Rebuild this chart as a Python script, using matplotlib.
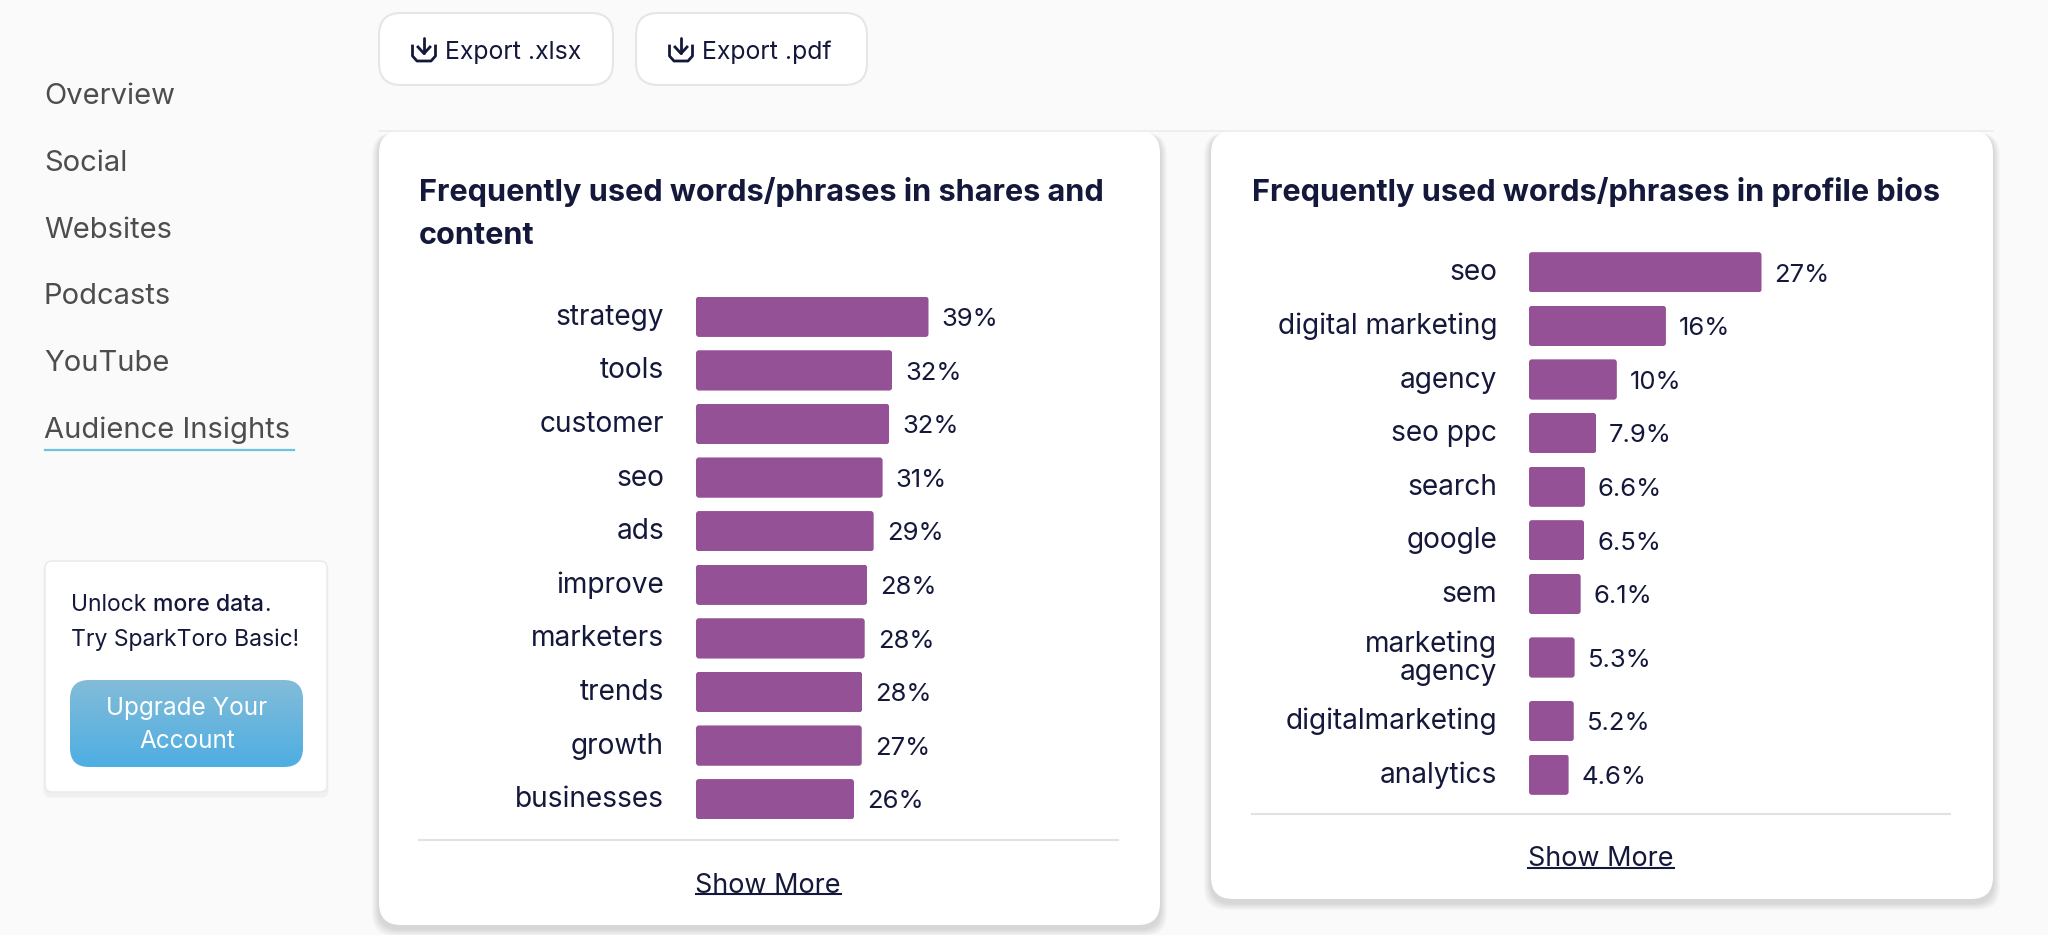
from matplotlib import pyplot as plt
from matplotlib.colors import LinearSegmentedColormap
from matplotlib.patches import FancyBboxPatch, Rectangle
from matplotlib.transforms import ScaledTranslation
import numpy as np

W = 2048
H = 935

plt.rcParams['font.family'] = ['Inter', 'DejaVu Sans']

# Values, printed labels kept apart because they are rounded
shares_words = ["strategy", "tools", "customer", "seo", "ads", "improve",
                "marketers", "trends", "growth", "businesses"]
shares_values = [39.0, 32.9, 32.4, 31.3, 29.8, 28.7, 28.3, 27.9, 27.8, 26.5]
shares_labels = ["39%", "32%", "32%", "31%", "29%", "28%", "28%", "28%", "27%", "26%"]

bios_words = ["seo", "digital marketing", "agency", "seo ppc", "search", "google",
              "sem", "marketing\nagency", "digitalmarketing", "analytics"]
bios_values = [27.0, 15.9, 10.2, 7.8, 6.5, 6.4, 6.0, 5.3, 5.2, 4.6]
bios_labels = ["27%", "16%", "10%", "7.9%", "6.6%", "6.5%", "6.1%", "5.3%", "5.2%", "4.6%"]

nav_items = ["Overview", "Social", "Websites", "Podcasts", "YouTube", "Audience Insights"]

PURPLE = "#945196"
INK = "#14183a"
NAV = "#4d4d4f"
FS = 27 * 0.72
BAR_W = 232.5


# rounded box in pixel coordinates, with an optional soft shadow below it
def box(ax, x0, y0, x1, y1, r, fc="white", ec="none", lw=1.0, shadow=0, z=2):
    for i in range(shadow, 0, -1):
        ax.add_patch(FancyBboxPatch((x0 + r - i, y0 + r + 2), x1 - x0 - 2 * r + 2 * i, y1 - y0 - 2 * r + 2 + i,
                                    boxstyle="round,pad=%f,rounding_size=%f" % (r, r),
                                    fc="black", ec="none", alpha=0.018, zorder=z))
    p = FancyBboxPatch((x0 + r, y0 + r), x1 - x0 - 2 * r, y1 - y0 - 2 * r,
                       boxstyle="round,pad=%f,rounding_size=%f" % (r, r),
                       fc=fc, ec=ec, lw=lw, zorder=z + 0.1)
    ax.add_patch(p)
    return p


def export_button(ax, x0, x1, text):
    box(ax, x0, 13, x1, 85, 22, ec="#e6e6e8", lw=1.5, z=3)
    ix = x0 + 45
    ax.plot([ix, ix], [38, 53], color=INK, lw=2.0, zorder=4, solid_capstyle="round")
    ax.plot([ix - 6, ix, ix + 6], [47, 53.5, 47], color=INK, lw=2.0, zorder=4)
    ax.plot([ix - 11.5, ix - 11.5, ix - 7, ix + 7, ix + 11.5, ix + 11.5],
            [46, 56, 61, 61, 56, 46], color=INK, lw=2.0, zorder=4)
    ax.text(x0 + 66, 52, text, fontsize=FS * 0.92, color=INK, va="center", ha="left", zorder=4)


def bar_panel(fig, left, top, words, values, labels):
    # two line labels make their row taller
    rows = [73.6 if "\n" in w else 53.6 for w in words]
    edges = np.r_[0, np.cumsum(rows)]
    centers = (edges[:-1] + edges[1:]) / 2
    total = edges[-1]
    ax = fig.add_axes([left / W, 1 - (top + total) / H, BAR_W / W, total / H])
    ax.patch.set_alpha(0)
    bars = ax.barh(centers, values, height=40.3, color=PURPLE)
    ax.set_xlim(0, max(values))
    ax.set_ylim(total, 0)

    # y data is in pixels, x is not, so the corner radius needs the aspect
    px = BAR_W / max(values)
    for rect in bars:
        clip = FancyBboxPatch(rect.get_xy(), rect.get_width(), rect.get_height(),
                              boxstyle="round,pad=0,rounding_size=%f" % (3 / px),
                              mutation_aspect=px, transform=ax.transData)
        rect.set_clip_path(clip)

    ax.set_xticks([])
    ax.set_yticks(centers, words, fontsize=FS * 1.04, color=INK, linespacing=1.05, ma="right")
    ax.tick_params(axis="y", length=0, pad=32 * 0.72)
    up = ScaledTranslation(0, 2.5 / 100, fig.dpi_scale_trans)
    for lab in ax.get_yticklabels():
        lab.set_transform(lab.get_transform() + up)
    for s in ax.spines.values():
        s.set_visible(False)
    texts = ax.bar_label(bars, labels=labels, padding=13 * 0.72, fontsize=FS * 0.95, color=INK, clip_on=False)
    for t in texts:
        x, y = t.xyann
        t.xyann = (x, y - 2)
    return ax


def main():
    fig = plt.figure(figsize=(W / 100, H / 100), dpi=100, facecolor="#fafafa")
    bg = fig.add_axes([0, 0, 1, 1])
    bg.set_xlim(0, W)
    bg.set_ylim(H, 0)
    bg.axis("off")

    # sidebar
    for i, name in enumerate(nav_items):
        bg.text(44, 97 + i * 66.6, name, fontsize=FS * 1.08, color=NAV, va="center", ha="left")
    bg.plot([45, 294], [450, 450], color="#6cc3de", lw=1.6)

    # upgrade card
    box(bg, 45, 561, 327, 792, 7, ec="#e9e9ea", lw=1, shadow=2)
    small = FS * 0.85
    unlock = bg.text(71, 605, "Unlock", fontsize=small, color=INK, va="center", zorder=4)
    fig.canvas.draw()
    ext = unlock.get_window_extent()
    more = bg.text(ext.x1 + 7, 605, "more data", fontsize=small, color=INK, va="center", fontweight="medium", zorder=4)
    ext = more.get_window_extent()
    bg.text(ext.x1, 605, ".", fontsize=small, color=INK, va="center", zorder=4)
    bg.text(71, 640, "Try SparkToro Basic!", fontsize=small, color=INK, va="center", zorder=4)
    btn = box(bg, 70, 680, 303, 767, 19, z=3)
    grad = np.linspace(0, 1, 100).reshape(-1, 1)
    im = bg.imshow(grad, extent=[70, 303, 767, 680], cmap=LinearSegmentedColormap.from_list("b", ["#83bcd9", "#4eaee2"]),
                   aspect="auto", zorder=3.5)
    im.set_clip_path(btn)
    bg.set_xlim(0, W)
    bg.set_ylim(H, 0)
    bg.text(187, 708, "Upgrade Your", fontsize=FS * 0.9, color="white", ha="center", va="center", zorder=4)
    bg.text(187, 742, "Account", fontsize=FS * 0.9, color="white", ha="center", va="center", zorder=4)

    # cards, their tops are cut by the scrolling area
    box(bg, 379, 131, 1160, 925, 22, shadow=7)
    box(bg, 1211, 131, 1993, 899, 22, shadow=7)
    bg.add_patch(Rectangle((0, 0), W, 131, fc="#fafafa", ec="none", zorder=2.5))
    bg.plot([379, 1993], [131, 131], color="#ececec", lw=1.2, zorder=2.6)

    # export buttons
    export_button(bg, 379, 613, "Export .xlsx")
    export_button(bg, 636, 867, "Export .pdf")

    title = FS * 1.135
    bg.text(419, 192, "Frequently used words/phrases in shares and", fontsize=title, fontweight="bold", color=INK, va="center", zorder=4)
    bg.text(419, 236, "content", fontsize=title, fontweight="bold", color=INK, va="center", zorder=4)
    bg.text(1252, 192, "Frequently used words/phrases in profile bios", fontsize=title, fontweight="bold", color=INK, va="center", zorder=4)

    bg.plot([419, 1118], [840, 840], color="#e2e2e2", lw=1.5, zorder=4)
    bg.plot([1252, 1950], [814, 814], color="#e2e2e2", lw=1.5, zorder=4)
    bg.text(768, 886, "Show More", fontsize=FS, color=INK, ha="center", va="center", zorder=4)
    bg.plot([696, 841], [894, 894], color=INK, lw=1.5, zorder=4)
    bg.text(1601, 859, "Show More", fontsize=FS, color=INK, ha="center", va="center", zorder=4)
    bg.plot([1528, 1674], [868, 868], color=INK, lw=1.5, zorder=4)

    bar_panel(fig, 696, 316.8 - 26.8, shares_words, shares_values, shares_labels)
    bar_panel(fig, 1529, 272.3 - 26.8, bios_words, bios_values, bios_labels)

    fig.savefig("out.png", dpi=100, facecolor=fig.get_facecolor())


if __name__ == "__main__":
    main()
